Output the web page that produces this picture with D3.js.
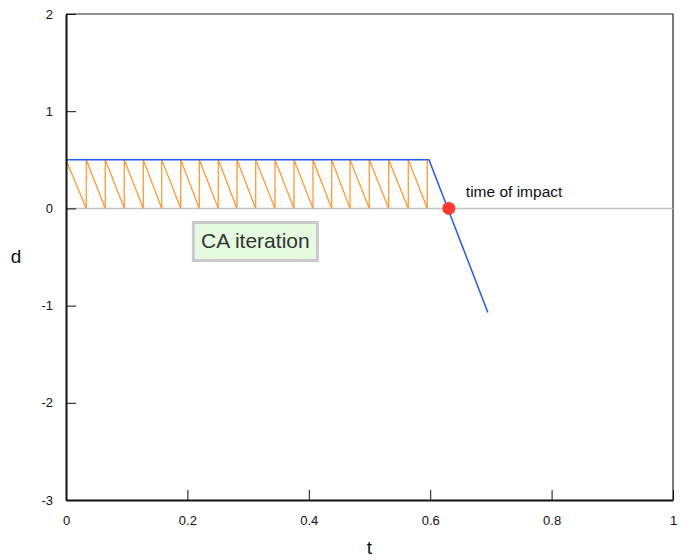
<!DOCTYPE html>
<meta charset="utf-8">
<style>
body { margin: 0; background: #fff; }
text { font-family: "Liberation Sans", Arial, Helvetica, sans-serif; }
.tick text { font-size: 13px; fill: #111; }
</style>
<body>
<script src="https://cdn.jsdelivr.net/npm/d3@7"></script>
<script>

// data
var xTicks = [0, 0.2, 0.4, 0.6, 0.8, 1];
var yTicks = [-3, -2, -1, 0, 1, 2];

// motion of the distance d over time t (blue)
var motionT = [0, 0.598, 0.695];
var motionD = [0.5, 0.5, -1.07];

// conservative advancement steps (orange): times where d is re-evaluated
var caSteps = [0.0334, 0.0647, 0.0960, 0.1273, 0.1577, 0.1890, 0.2196, 0.2509,
               0.2817, 0.3125, 0.3443, 0.3756, 0.4069, 0.4377, 0.4679, 0.4997,
               0.5316, 0.5639, 0.5952];
var caDist = 0.5;

var impactT = 0.6307, impactD = 0;

var margin = {top: 14, right: 11, bottom: 60, left: 66},
    width = 684 - margin.left - margin.right,
    height = 560 - margin.top - margin.bottom;

var x = d3.scaleLinear().domain([0, 1]).range([0, width]);
var y = d3.scaleLinear().domain([-3, 2]).range([height, 0]);

var svg = d3.select("body").append("svg")
    .attr("width", 684)
    .attr("height", 560)
  .append("g")
    .attr("transform", "translate(" + margin.left + "," + margin.top + ")");

// top and right frame
svg.append("path")
    .attr("d", "M0,0H" + width + "V" + height)
    .attr("fill", "none")
    .attr("stroke", "#222")
    .attr("stroke-width", 1.2);

// zero line
svg.append("line")
    .attr("x1", x(0)).attr("x2", x(1))
    .attr("y1", y(0)).attr("y2", y(0))
    .attr("stroke", "#c4c4c4")
    .attr("stroke-width", 1.5);

// sawtooth of the CA iteration
var saw = [[0, caDist]];
caSteps.forEach(function(t) {
  saw.push([t, 0]);
  saw.push([t, caDist]);
});
svg.append("path")
    .datum(saw)
    .attr("fill", "none")
    .attr("stroke", "#ff9a35")
    .attr("stroke-width", 1.3)
    .attr("d", d3.line().x(function(d) { return x(d[0]); }).y(function(d) { return y(d[1]); }));

// motion line
var motion = motionT.map(function(t, i) { return [t, motionD[i]]; });
svg.append("path")
    .datum(motion)
    .attr("fill", "none")
    .attr("stroke", "#1f5cf0")
    .attr("stroke-width", 1.5)
    .attr("d", d3.line().x(function(d) { return x(d[0]); }).y(function(d) { return y(d[1]); }));

// impact point
svg.append("circle")
    .attr("cx", x(impactT))
    .attr("cy", y(impactD))
    .attr("r", 6.5)
    .attr("fill", "#ff3b2f");

svg.append("text")
    .attr("x", x(impactT) + 17)
    .attr("y", y(0) - 11)
    .attr("font-size", 15.5)
    .attr("fill", "#111")
    .text("time of impact");

// CA iteration label box
var bx = x(0.312), by = y(-0.34);
svg.append("rect")
    .attr("x", bx - 62).attr("y", by - 19)
    .attr("width", 124).attr("height", 38)
    .attr("fill", "#e5fbdf")
    .attr("stroke", "#c9c9c9")
    .attr("stroke-width", 3);
svg.append("text")
    .attr("x", bx).attr("y", by + 7)
    .attr("text-anchor", "middle")
    .attr("font-size", 21)
    .attr("fill", "#333")
    .text("CA iteration");

// axes
var fmt = function(d) { return String(d); };
var xAxis = svg.append("g")
    .attr("transform", "translate(0," + height + ")")
    .call(d3.axisBottom(x).tickValues(xTicks).tickFormat(fmt).tickSizeInner(-10).tickSizeOuter(0).tickPadding(16));
xAxis.select(".domain").attr("stroke", "#111").attr("stroke-width", 2);
xAxis.selectAll(".tick line").attr("stroke", "#111");

var yAxis = svg.append("g")
    .call(d3.axisLeft(y).tickValues(yTicks).tickFormat(fmt).tickSizeInner(-10).tickSizeOuter(0).tickPadding(13));
yAxis.select(".domain").attr("stroke", "#111").attr("stroke-width", 2);
yAxis.selectAll(".tick line").attr("stroke", "#111");

// axis titles
svg.append("text")
    .attr("x", width / 2)
    .attr("y", height + 54)
    .attr("text-anchor", "middle")
    .attr("font-size", 19)
    .attr("fill", "#111")
    .text("t");

svg.append("text")
    .attr("x", -50)
    .attr("y", y(-0.5) + 6)
    .attr("text-anchor", "middle")
    .attr("font-size", 19)
    .attr("fill", "#111")
    .text("d");

</script>
</body>
